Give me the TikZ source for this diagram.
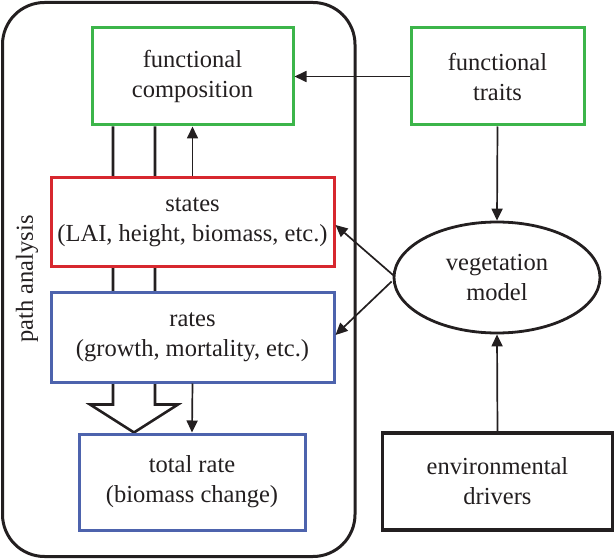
\documentclass[tikz,border=0pt]{standalone}
\usepackage{fontspec}
\setmainfont{Liberation Serif}
\usetikzlibrary{shapes.geometric,arrows.meta,calc,backgrounds}
\definecolor{tgreen}{HTML}{3CB54A}
\definecolor{tred}{HTML}{D7282F}
\definecolor{tblue}{HTML}{4D63AD}
\definecolor{ink}{HTML}{231F20}
\tikzset{
  nbox/.style={draw=#1, line width=3pt, fill=white, align=center, inner sep=0pt,
    font=\fontsize{24.5}{30}\selectfont, text=ink},
  arr/.style={draw=ink, line width=1.7pt, -{Triangle[length=12pt,width=11pt]}},
  bigarrow/.style={draw=ink, line width=2.6pt, fill=white, line join=miter},
}
\begin{document}
\begin{tikzpicture}[x=1pt,y=-1pt]
\useasboundingbox (0,0) rectangle (614,559);
% outer path-analysis frame
\draw[ink, line width=3pt, rounded corners=42pt] (2.5,2.5) rectangle (355,556.5);
\node[rotate=90, font=\fontsize{24.5}{30}\selectfont, text=ink] (pa) at (27,279) {path analysis};

% nodes
\node[nbox=tgreen, minimum width=201pt, minimum height=97pt] (comp) at (192.5,76.5) {functional\\composition};
\node[nbox=tgreen, minimum width=173pt, minimum height=97pt] (traits) at (497.5,76.5) {functional\\traits};
\node[nbox=tred, minimum width=283pt, minimum height=89pt] (states) at (192.5,222.5) {states\\(LAI, height, biomass, etc.)};
\node[nbox=tblue, minimum width=283pt, minimum height=89pt] (rates) at (192.5,337.5) {rates\\(growth, mortality, etc.)};
\node[nbox=tblue, minimum width=226pt, minimum height=96pt] (total) at (192,482) {total rate\\(biomass change)};
\node[nbox=ink, line width=3.2pt, minimum width=230pt, minimum height=97pt] (env) at (497.5,481.5) {environmental\\drivers};
\node[nbox=ink, ellipse, line width=2.8pt, minimum width=206pt, minimum height=111pt] (veg) at (497,277.5) {vegetation\\model};

% big hollow arrow from composition to total rate (behind the boxes)
\coordinate (ba1) at ($(comp.south)+(-79.5,0)$);
\coordinate (ba2) at ($(comp.south)+(-37.5,0)$);
\coordinate (bah) at ($(rates.south)+(0,21)$);
\coordinate (batip) at ($(total.north)+(-58,0)$);
\begin{scope}[on background layer]
\draw[bigarrow] (ba1) -- (ba1 |- bah) -- ++(-23,0) -- (batip) -- ($(ba2 |- bah)+(23,0)$) -- (ba2 |- bah) -- (ba2);
\end{scope}

% connectors
\draw[arr] (states.north) -- (comp.south);
\draw[arr] (rates.south) -- (total.north);
\draw[arr] (traits.west) -- (comp.east);
\draw[arr] (traits.south) -- (veg.north);
\draw[arr] (env.north) -- (veg.south);
\coordinate (vw1) at ($(veg.west)+(1,-2)$);
\coordinate (vw2) at ($(veg.west)+(-1,4)$);
\draw[arr] (vw1) -- ($(states.east)+(0,2.5)$);
\draw[arr] (vw2) -- ($(rates.east)+(0,-2.5)$);
\end{tikzpicture}
\end{document}
